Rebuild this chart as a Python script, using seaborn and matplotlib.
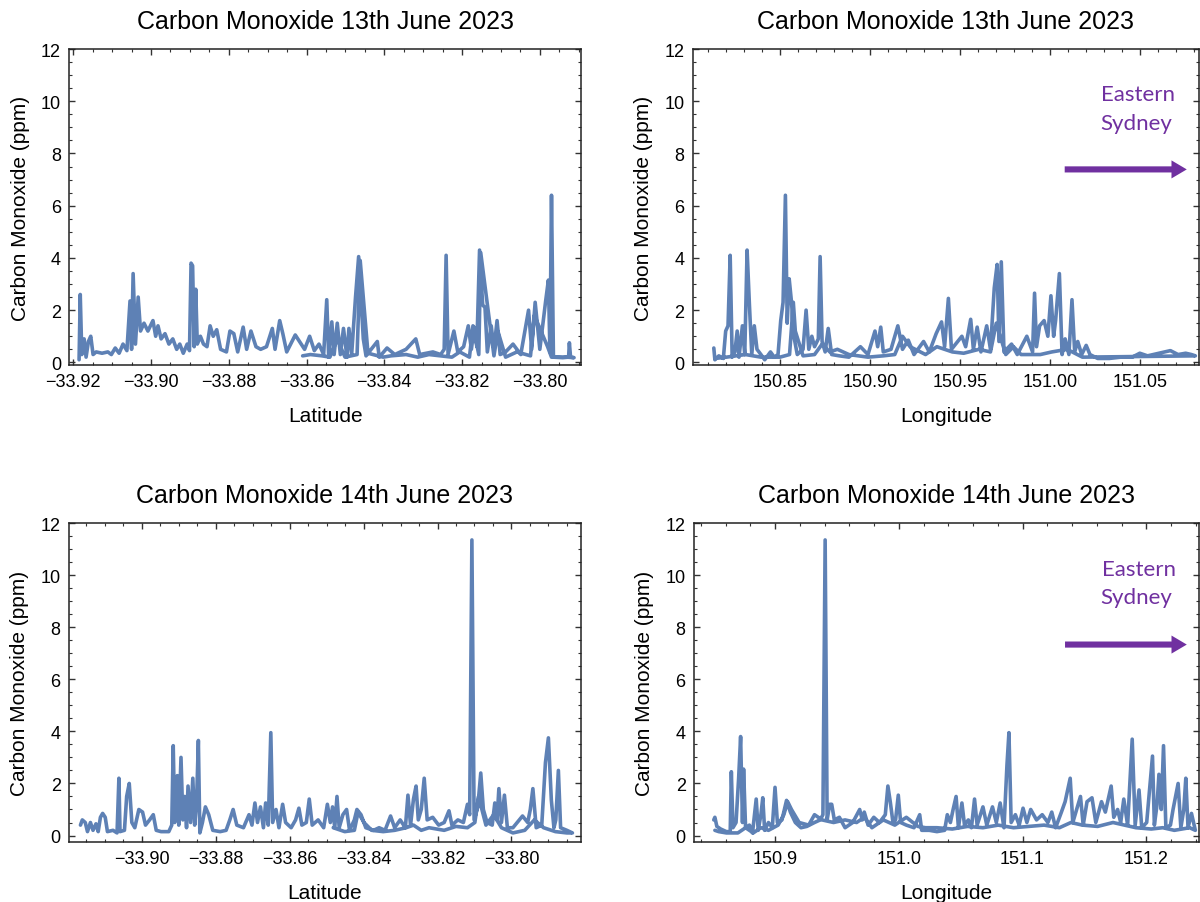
"""
carbon monoxide vs latitude / longitude, Sydney drives 13-14 June 2023
"""
import matplotlib
matplotlib.use('Agg')
import matplotlib.pyplot as plt
from matplotlib.ticker import MultipleLocator, FuncFormatter
import seaborn as sns
import pandas as pd

sns.set_style('ticks')
plt.rcParams['font.family'] = ['Liberation Sans', 'DejaVu Sans']
plt.rcParams['text.color'] = 'black'
plt.rcParams['axes.labelcolor'] = 'black'

# ============================================ #
# DATA
# ============================================ #

# 13th June, latitude
lat_13 = [-33.9185, -33.9182, -33.9178, -33.9172, -33.9167, -33.9161, -33.9155, -33.9149, -33.9141, -33.9126,
          -33.9111, -33.9102, -33.9092, -33.9082, -33.9072, -33.9062, -33.9054, -33.9050, -33.9046, -33.9040,
          -33.9033, -33.9027, -33.9018, -33.9008, -33.8995, -33.8988, -33.8982, -33.8974, -33.8964, -33.8954,
          -33.8944, -33.8934, -33.8926, -33.8917, -33.8907, -33.8901, -33.8897, -33.8893, -33.8889, -33.8885,
          -33.8881, -33.8873, -33.8865, -33.8856, -33.8848, -33.8840, -33.8831, -33.8821, -33.8806, -33.8797,
          -33.8787, -33.8777, -33.8763, -33.8754, -33.8743, -33.8730, -33.8718, -33.8703, -33.8688, -33.8681,
          -33.8669, -33.8661, -33.8651, -33.8629, -33.8618, -33.8605, -33.8592, -33.8580, -33.8568, -33.8556,
          -33.8548, -33.8543, -33.8535, -33.8529, -33.8521, -33.8513, -33.8505, -33.8496, -33.8491, -33.8484,
          -33.8474, -33.8466, -33.8460, -33.8454, -33.8447, -33.8418, -33.8413, -33.8393, -33.8373, -33.8344,
          -33.8319, -33.8309, -33.8275, -33.8255, -33.8246, -33.8241, -33.8236, -33.8221, -33.8211, -33.8196,
          -33.8184, -33.8176, -33.8169, -33.8162, -33.8155, -33.8147, -33.8141, -33.8135, -33.8125, -33.8118,
          -33.8110, -33.8102, -33.8088, -33.8069, -33.8049, -33.8029, -33.8021, -33.8012, -33.8000, -33.7985,
          -33.7978, -33.7974, -33.7970, -33.7965, -33.7941, -33.7926, -33.7924, -33.7921, -33.7912,
          # way back
          -33.7931, -33.7970, -33.7980, -33.8014, -33.8024, -33.8059, -33.8088, -33.8108, -33.8118, -33.8152,
          -33.8157, -33.8172, -33.8181, -33.8206, -33.8226, -33.8285, -33.8314, -33.8344, -33.8383, -33.8403,
          -33.8442, -33.8462, -33.8470, -33.8501, -33.8521, -33.8540, -33.8560, -33.8590, -33.8610]
co_lat_13 = [0.1, 2.6, 0.3, 0.9, 0.2, 0.8, 1.0, 0.3, 0.4, 0.35,
             0.4, 0.3, 0.55, 0.35, 0.7, 0.45, 2.35, 0.5, 3.4, 0.7,
             2.5, 1.2, 1.5, 1.2, 1.6, 1.0, 1.4, 0.9, 1.1, 0.7,
             0.9, 0.5, 0.7, 0.35, 0.7, 0.45, 3.8, 3.7, 0.6, 2.8,
             0.7, 1.0, 0.7, 0.6, 1.4, 1.0, 1.25, 0.5, 0.4, 1.2,
             1.1, 0.4, 1.35, 0.5, 1.2, 0.6, 0.5, 0.6, 1.3, 0.5,
             1.6, 1.1, 0.4, 1.05, 0.8, 0.5, 1.0, 0.45, 0.7, 0.3,
             2.4, 0.2, 1.55, 0.3, 1.5, 0.3, 1.3, 0.2, 1.3, 0.3,
             2.5, 4.05, 2.5, 0.9, 0.25, 0.8, 0.2, 0.55, 0.3, 0.5,
             0.9, 0.3, 0.4, 0.3, 0.5, 4.1, 0.3, 1.2, 0.4, 0.6,
             1.4, 0.5, 1.35, 0.6, 4.3, 2.2, 2.1, 0.4, 1.4, 0.5,
             1.6, 0.3, 0.4, 0.7, 0.3, 2.0, 0.5, 2.3, 0.5, 2.35,
             3.15, 0.4, 6.4, 0.2, 0.18, 0.2, 0.75, 0.2, 0.18,
             0.2, 0.2, 0.6, 1.8, 0.25, 0.4, 0.2, 1.2, 0.25, 4.2,
             0.3, 1.4, 0.2, 0.4, 0.2, 0.3, 0.2, 0.3, 0.25, 0.2,
             0.35, 3.9, 0.3, 0.2, 0.9, 0.2, 0.25, 0.3, 0.25]

# 13th June, longitude
lon_13 = [150.8132, 150.8138, 150.8160, 150.8185, 150.8198, 150.8211, 150.8223, 150.8234, 150.8249, 150.8262,
          150.8272, 150.8291, 150.8304, 150.8317, 150.8330, 150.8343, 150.8357, 150.8372, 150.8394, 150.8415,
          150.8447, 150.8468, 150.8489, 150.8504, 150.8517, 150.8530, 150.8540, 150.8551, 150.8564, 150.8577,
          150.8596, 150.8628, 150.8645, 150.8660, 150.8677, 150.8692, 150.8713, 150.8723, 150.8734, 150.8751,
          150.8768, 150.8787, 150.8830, 150.8883, 150.8947, 150.8989, 150.9028, 150.9043, 150.9060, 150.9074,
          150.9117, 150.9155, 150.9181, 150.9213, 150.9245, 150.9298, 150.9330, 150.9368, 150.9398, 150.9415,
          150.9436, 150.9453, 150.9511, 150.9532, 150.9560, 150.9575, 150.9596, 150.9617, 150.9649, 150.9670,
          150.9691, 150.9707, 150.9717, 150.9730, 150.9745, 150.9787, 150.9819, 150.9872, 150.9904, 150.9915,
          150.9926, 150.9943, 150.9968, 150.9989, 151.0006, 151.0021, 151.0032, 151.0053, 151.0068, 151.0085,
          151.0106, 151.0123, 151.0138, 151.0155, 151.0177, 151.0202, 151.0223, 151.0266, 151.0330, 151.0394,
          151.0458, 151.0500, 151.0543, 151.0606, 151.0670, 151.0713, 151.0755, 151.0787, 151.0809,
          # way back
          151.0181, 151.0096, 151.0011, 150.9947, 150.9840, 150.9798, 150.9755, 150.9702, 150.9670, 150.9606,
          150.9521, 150.9458, 150.9372, 150.9309, 150.9223, 150.9181, 150.9138, 150.9074, 150.8989, 150.8883,
          150.8819, 150.8777, 150.8734, 150.8692, 150.8628, 150.8585, 150.8574, 150.8553, 150.8500, 150.8394,
          150.8308, 150.8202, 150.8138]
co_lon_13 = [0.55, 0.1, 0.25, 0.15, 1.2, 1.4, 4.1, 0.2, 0.4, 1.2,
             0.2, 1.4, 0.3, 4.3, 2.2, 0.3, 1.4, 0.5, 0.3, 0.1,
             0.4, 0.2, 0.3, 1.6, 2.3, 6.4, 1.5, 3.2, 2.3, 1.0,
             0.3, 0.5, 2.0, 0.5, 1.0, 0.6, 0.9, 4.05, 0.8, 0.4,
             1.3, 0.3, 0.25, 0.2, 0.6, 0.3, 1.2, 0.6, 1.35, 0.4,
             0.5, 1.4, 0.5, 0.85, 0.3, 0.8, 0.4, 1.1, 1.55, 0.6,
             2.45, 0.5, 1.0, 0.6, 1.65, 0.5, 1.35, 0.4, 1.4, 0.5,
             2.85, 3.75, 0.8, 3.85, 0.4, 0.7, 0.3, 1.0, 0.4, 2.65,
             0.6, 1.4, 1.6, 1.0, 2.55, 1.0, 1.6, 3.4, 0.3, 0.9,
             0.3, 2.4, 0.4, 0.8, 0.3, 0.65, 0.3, 0.15, 0.15, 0.2,
             0.2, 0.35, 0.25, 0.35, 0.45, 0.3, 0.35, 0.3, 0.25,
             0.2, 0.5, 0.4, 0.3, 0.3, 0.6, 0.3, 1.5, 0.4, 0.5,
             0.35, 0.4, 0.6, 0.3, 0.6, 1.0, 0.3, 0.25, 0.2, 0.3,
             0.5, 0.4, 0.7, 0.3, 0.25, 1.2, 2.3, 0.3, 0.2, 0.2,
             0.3, 0.2, 0.15]

# 14th June, latitude
lat_14 = [-33.9166, -33.9161, -33.9153, -33.9147, -33.9139, -33.9132, -33.9124, -33.9118, -33.9112, -33.9106,
          -33.9099, -33.9093, -33.9078, -33.9067, -33.9062, -33.9059, -33.9047, -33.9041, -33.9034, -33.9027,
          -33.9019, -33.9008, -33.8998, -33.8990, -33.8979, -33.8969, -33.8961, -33.8948, -33.8927, -33.8919,
          -33.8915, -33.8911, -33.8907, -33.8904, -33.8900, -33.8894, -33.8889, -33.8884, -33.8879, -33.8875,
          -33.8868, -33.8862, -33.8857, -33.8852, -33.8847, -33.8843, -33.8836, -33.8828, -33.8819, -33.8808,
          -33.8788, -33.8772, -33.8762, -33.8753, -33.8743, -33.8725, -33.8710, -33.8702, -33.8694, -33.8687,
          -33.8679, -33.8671, -33.8665, -33.8658, -33.8651, -33.8646, -33.8637, -33.8629, -33.8619, -33.8611,
          -33.8596, -33.8584, -33.8575, -33.8567, -33.8555, -33.8547, -33.8539, -33.8523, -33.8508, -33.8498,
          -33.8490, -33.8484, -33.8478, -33.8472, -33.8466, -33.8456, -33.8446, -33.8438, -33.8425, -33.8418,
          -33.8407, -33.8394, -33.8373, -33.8358, -33.8342, -33.8327, -33.8316, -33.8301, -33.8287, -33.8280,
          -33.8273, -33.8265, -33.8258, -33.8252, -33.8244, -33.8236, -33.8228, -33.8213, -33.8197, -33.8182,
          -33.8169, -33.8161, -33.8145, -33.8130, -33.8119, -33.8113, -33.8107, -33.8101, -33.8091, -33.8083,
          -33.8076, -33.8066, -33.8052, -33.8045, -33.8039, -33.8034, -33.8027, -33.8019, -33.8011, -33.7996,
          -33.7970, -33.7956, -33.7949, -33.7942, -33.7933, -33.7918, -33.7908, -33.7900, -33.7892, -33.7885,
          -33.7880, -33.7873, -33.7867, -33.7850, -33.7835,
          # way back
          -33.7850, -33.7881, -33.7913, -33.7938, -33.7964, -33.7996, -33.8027, -33.8048, -33.8069, -33.8089,
          -33.8099, -33.8119, -33.8150, -33.8182, -33.8223, -33.8244, -33.8265, -33.8285, -33.8316, -33.8347,
          -33.8378, -33.8399, -33.8415, -33.8425, -33.8451, -33.8482]
co_lat_14 = [0.4, 0.6, 0.5, 0.15, 0.5, 0.2, 0.45, 0.15, 0.7, 0.85,
             0.7, 0.15, 0.2, 0.1, 2.2, 0.15, 0.2, 1.5, 2.0, 0.5,
             0.3, 1.0, 0.9, 0.4, 0.6, 0.8, 0.2, 0.15, 0.15, 0.4,
             3.45, 0.5, 1.2, 2.3, 0.4, 3.0, 0.6, 1.5, 0.3, 1.9,
             0.5, 2.2, 0.4, 1.2, 3.65, 0.1, 0.5, 1.1, 0.8, 0.2,
             0.15, 0.2, 0.6, 1.0, 0.4, 0.3, 0.8, 0.4, 1.25, 0.5,
             1.1, 0.3, 1.25, 0.4, 3.95, 0.5, 1.0, 0.3, 1.2, 0.5,
             0.3, 0.6, 1.05, 0.4, 0.5, 1.4, 0.4, 0.6, 0.3, 1.2,
             0.5, 1.1, 0.3, 1.5, 0.3, 0.8, 1.0, 0.2, 0.6, 1.0,
             0.8, 0.3, 0.2, 0.3, 0.2, 0.75, 0.3, 0.6, 0.3, 1.55,
             0.4, 1.4, 1.9, 0.6, 1.0, 2.2, 0.6, 0.7, 0.4, 0.5,
             0.95, 0.4, 0.6, 0.5, 1.2, 0.8, 11.35, 0.6, 1.1, 2.4,
             1.0, 0.5, 0.4, 1.25, 0.6, 1.8, 0.5, 1.55, 0.3, 0.3,
             0.75, 0.5, 1.0, 1.8, 0.3, 0.4, 2.8, 3.75, 1.35, 0.3,
             0.6, 2.5, 0.3, 0.2, 0.1,
             0.1, 0.15, 0.3, 0.6, 0.2, 0.1, 0.3, 0.8, 0.4, 1.5,
             0.5, 0.3, 0.35, 0.2, 0.3, 0.2, 0.4, 0.3, 0.2, 0.15,
             0.2, 0.5, 0.9, 0.2, 0.15, 0.3]

# 14th June, longitude
lon_14 = [150.8505, 150.8514, 150.8530, 150.8561, 150.8607, 150.8638, 150.8647, 150.8660, 150.8685, 150.8706,
          150.8722, 150.8737, 150.8746, 150.8762, 150.8793, 150.8818, 150.8848, 150.8864, 150.8886, 150.8901,
          150.8916, 150.8947, 150.8978, 150.9000, 150.9019, 150.9056, 150.9093, 150.9124, 150.9164, 150.9210,
          150.9257, 150.9319, 150.9365, 150.9387, 150.9405, 150.9421, 150.9442, 150.9458, 150.9479, 150.9520,
          150.9566, 150.9628, 150.9684, 150.9705, 150.9721, 150.9752, 150.9798, 150.9844, 150.9891, 150.9912,
          150.9931, 150.9953, 150.9974, 150.9996, 151.0015, 151.0061, 151.0123, 151.0169, 151.0185, 151.0246,
          151.0308, 151.0370, 151.0392, 151.0417, 151.0439, 151.0463, 151.0482, 151.0510, 151.0531, 151.0562,
          151.0587, 151.0612, 151.0633, 151.0680, 151.0711, 151.0757, 151.0788, 151.0819, 151.0850, 151.0874,
          151.0890, 151.0908, 151.0942, 151.0973, 151.1004, 151.1035, 151.1066, 151.1113, 151.1159, 151.1205,
          151.1236, 151.1267, 151.1314, 151.1344, 151.1385, 151.1406, 151.1437, 151.1468, 151.1490, 151.1521,
          151.1561, 151.1592, 151.1638, 151.1669, 151.1716, 151.1737, 151.1768, 151.1793, 151.1818, 151.1849,
          151.1886, 151.1910, 151.1941, 151.1963, 151.2003, 151.2050, 151.2065, 151.2087, 151.2102, 151.2121,
          151.2139, 151.2158, 151.2195, 151.2216, 151.2257, 151.2279, 151.2303, 151.2319, 151.2337, 151.2365,
          151.2396,
          # way back
          151.2350, 151.2226, 151.2133, 151.2040, 151.1916, 151.1824, 151.1731, 151.1607, 151.1483, 151.1391,
          151.1298, 151.1174, 151.1051, 151.0927, 151.0803, 151.0680, 151.0556, 151.0432, 151.0308, 151.0216,
          151.0154, 151.0061, 150.9968, 150.9875, 150.9783, 150.9721, 150.9659, 150.9566, 150.9473, 150.9380,
          150.9319, 150.9272, 150.9195, 150.9133, 150.9102, 150.9071, 150.9025, 150.8947, 150.8886, 150.8824,
          150.8762, 150.8700, 150.8607, 150.8545, 150.8514]
co_lon_14 = [0.6, 0.7, 0.35, 0.25, 0.15, 0.15, 2.45, 0.3, 0.5, 2.2,
             3.8, 0.5, 2.55, 0.3, 0.4, 0.1, 1.4, 0.2, 0.8, 1.45,
             0.2, 0.5, 0.3, 1.85, 0.5, 0.6, 1.35, 0.9, 0.5, 0.3,
             0.35, 0.5, 0.6, 0.8, 11.35, 0.6, 1.2, 1.2, 0.6, 0.7,
             0.3, 0.5, 1.0, 0.6, 0.9, 0.4, 0.7, 0.5, 0.8, 1.9,
             1.3, 0.5, 0.6, 1.55, 0.5, 0.4, 0.3, 0.8, 0.2, 0.2,
             0.15, 0.2, 0.8, 0.5, 1.0, 1.5, 0.3, 1.25, 0.4, 0.6,
             0.3, 1.4, 0.4, 1.1, 0.4, 1.1, 0.5, 1.25, 0.3, 2.7,
             3.95, 0.5, 0.8, 0.4, 1.05, 0.5, 1.0, 0.6, 0.8, 0.5,
             0.9, 0.3, 0.9, 1.3, 2.2, 0.5, 1.0, 1.5, 0.4, 1.3,
             1.45, 0.5, 1.3, 0.9, 1.9, 0.7, 1.0, 0.5, 1.4, 0.4,
             3.7, 0.4, 1.75, 0.3, 0.5, 3.05, 0.4, 1.2, 2.35, 1.0,
             3.45, 0.3, 0.4, 1.0, 2.0, 0.3, 1.0, 2.2, 0.3, 0.85,
             0.2,
             0.3, 0.2, 0.3, 0.25, 0.3, 0.4, 0.5, 0.35, 0.4, 0.5,
             0.3, 0.4, 0.35, 0.3, 0.4, 0.3, 0.35, 0.25, 0.3, 0.3,
             0.35, 0.7, 0.4, 0.6, 0.3, 0.7, 0.5, 0.6, 0.5, 0.6,
             0.8, 0.4, 0.5, 1.0, 1.3, 0.8, 0.4, 0.2, 0.3, 0.1,
             0.3, 0.1, 0.1, 0.15, 0.2]

# ============================================ #
# PLOT
# ============================================ #
line_color = '#5e81b5'
purple = '#7030a0'

panels = [
    dict(x=lat_13, y=co_lat_13, xlabel='Latitude', title='Carbon Monoxide 13th June 2023',
         pos=[0.0578, 0.5947, 0.4264, 0.3499], xlim=(-33.921, -33.7894), ylim=(-0.1, 12),
         major=0.02, minor=0.005, fmt='{:.2f}', east=False),
    dict(x=lon_13, y=co_lon_13, xlabel='Longitude', title='Carbon Monoxide 13th June 2023',
         pos=[0.5773, 0.5947, 0.4220, 0.3499], xlim=(150.8015, 151.0830), ylim=(-0.1, 12),
         major=0.05, minor=0.01, fmt='{:.2f}', east=True),
    dict(x=lat_14, y=co_lat_14, xlabel='Latitude', title='Carbon Monoxide 14th June 2023',
         pos=[0.0575, 0.0664, 0.4263, 0.3533], xlim=(-33.9197, -33.7813), ylim=(-0.25, 12),
         major=0.02, minor=0.005, fmt='{:.2f}', east=False),
    dict(x=lon_14, y=co_lon_14, xlabel='Longitude', title='Carbon Monoxide 14th June 2023',
         pos=[0.5783, 0.0664, 0.4210, 0.3533], xlim=(150.8345, 151.2427), ylim=(-0.25, 12),
         major=0.1, minor=0.02, fmt='{:.1f}', east=True),
]


def tick_fmt(fmt):
    return FuncFormatter(lambda v, pos: fmt.format(v).replace('-', '\u2212'))


fig = plt.figure(figsize=(12, 9.03), dpi=100)

for p in panels:
    ax = fig.add_axes(p['pos'])
    df = pd.DataFrame({'x': p['x'], 'co': p['y']})
    sns.lineplot(data=df, x='x', y='co', sort=False, estimator=None,
                 color=line_color, linewidth=2.6, ax=ax)

    ax.set(xlim=p['xlim'], ylim=p['ylim'])
    ax.xaxis.set_major_locator(MultipleLocator(p['major']))
    ax.xaxis.set_minor_locator(MultipleLocator(p['minor']))
    ax.yaxis.set_major_locator(MultipleLocator(2))
    ax.yaxis.set_minor_locator(MultipleLocator(0.5))
    ax.xaxis.set_major_formatter(tick_fmt(p['fmt']))
    ax.yaxis.set_major_formatter(tick_fmt('{:.0f}'))

    ax.tick_params(which='both', direction='in', top=True, right=True,
                   color='#333333', labelsize=13, labelcolor='black')
    ax.tick_params(which='major', length=4.5, width=1.0, pad=6)
    ax.tick_params(which='minor', length=2.5, width=0.8)
    for s in ax.spines.values():
        s.set_linewidth(1.1)
        s.set_color('#222222')

    ax.set_xlabel(p['xlabel'], fontsize=15, labelpad=11, color='black')
    ax.set_ylabel('Carbon Monoxide (ppm)', fontsize=15, labelpad=8, color='black')
    ax.set_title(p['title'], fontsize=18, pad=15, color='black')

    if p['east']:
        ax.annotate('', xy=(0.981, 0.619), xytext=(0.729, 0.619), xycoords='axes fraction',
                    arrowprops=dict(arrowstyle='simple,head_length=0.55,head_width=0.65,tail_width=0.22',
                                    mutation_scale=20, color=purple, lw=0))
        ax.text(0.880, 0.857, 'Eastern', transform=ax.transAxes, ha='center', va='center',
                fontsize=16, color=purple, family=['Lato', 'DejaVu Sans'])
        ax.text(0.876, 0.767, 'Sydney', transform=ax.transAxes, ha='center', va='center',
                fontsize=16, color=purple, family=['Lato', 'DejaVu Sans'])

fig.savefig('out.png', dpi=100, facecolor='white')
